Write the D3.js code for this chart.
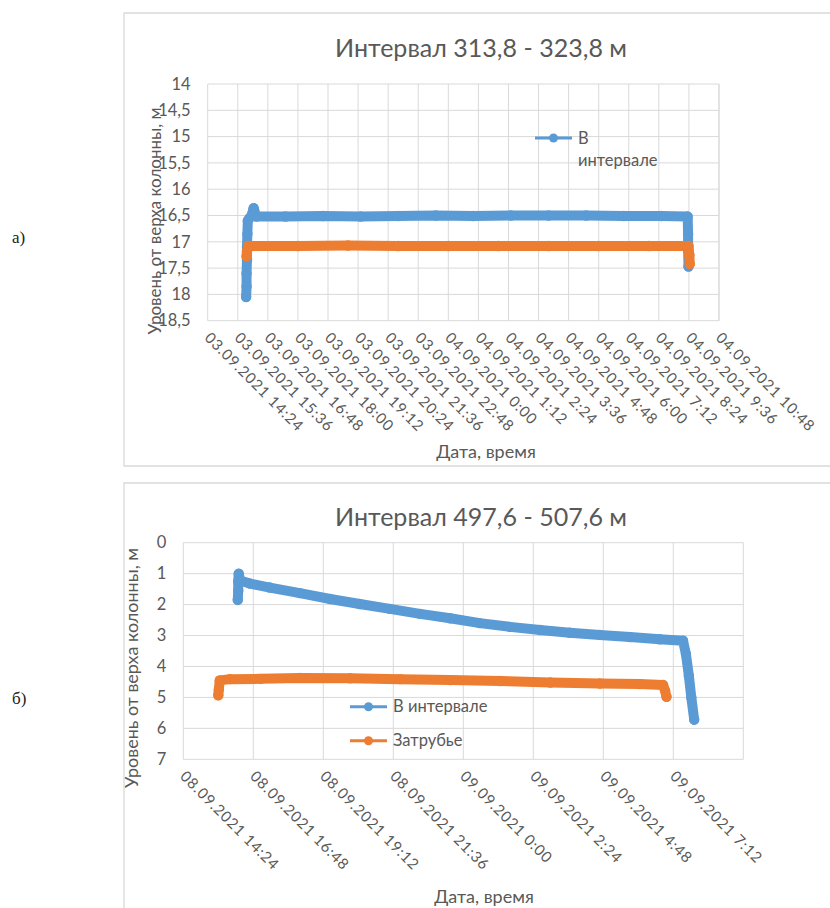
<!DOCTYPE html>
<html><head><meta charset="utf-8">
<script src="https://cdn.jsdelivr.net/npm/d3@7"></script>
<style>
body{margin:0;background:#fff;}
svg{display:block;}
text{font-family:Lato,"Open Sans",sans-serif;fill:#595959;}
</style></head>
<body>
<svg id="c" width="830" height="908"></svg>
<script>
// ---------- DATA ----------
// Chart a)
const titleA = "Интервал 313,8 - 323,8 м";
const yTicksA = [14, 14.5, 15, 15.5, 16, 16.5, 17, 17.5, 18, 18.5];
const xTickLabelsA = ["03.09.2021 14:24","03.09.2021 15:36","03.09.2021 16:48","03.09.2021 18:00","03.09.2021 19:12","03.09.2021 20:24","03.09.2021 21:36","03.09.2021 22:48","04.09.2021 0:00","04.09.2021 1:12","04.09.2021 2:24","04.09.2021 3:36","04.09.2021 4:48","04.09.2021 6:00","04.09.2021 7:12","04.09.2021 8:24","04.09.2021 9:36","04.09.2021 10:48"];
const blueTimesA = ["03.09.2021 15:56","03.09.2021 15:57","03.09.2021 15:57","03.09.2021 15:58","03.09.2021 15:58","03.09.2021 15:59","03.09.2021 16:00","03.09.2021 16:04","03.09.2021 16:09","03.09.2021 16:14","03.09.2021 16:20","03.09.2021 17:30","03.09.2021 19:00","03.09.2021 20:30","03.09.2021 22:00","03.09.2021 23:30","04.09.2021 1:00","04.09.2021 2:30","04.09.2021 4:00","04.09.2021 5:30","04.09.2021 7:00","04.09.2021 8:30","04.09.2021 9:33","04.09.2021 9:34","04.09.2021 9:34","04.09.2021 9:35"];
const blueValuesA = [18.05, 17.85, 17.6, 17.35, 17.1, 16.85, 16.6, 16.55, 16.5, 16.36, 16.52, 16.52, 16.51, 16.52, 16.51, 16.5, 16.51, 16.5, 16.5, 16.5, 16.51, 16.51, 16.52, 16.85, 17.15, 17.47];
const orangeTimesA = ["03.09.2021 15:57","03.09.2021 15:58","03.09.2021 16:01","03.09.2021 16:05","03.09.2021 18:00","03.09.2021 20:00","03.09.2021 22:00","04.09.2021 0:00","04.09.2021 2:00","04.09.2021 4:00","04.09.2021 6:00","04.09.2021 8:00","04.09.2021 9:35","04.09.2021 9:37","04.09.2021 9:38"];
const orangeValuesA = [17.28, 17.18, 17.08, 17.08, 17.08, 17.07, 17.08, 17.08, 17.08, 17.08, 17.08, 17.08, 17.08, 17.25, 17.42];
const legendA = ["В", "интервале"];

// Chart б)
const titleB = "Интервал 497,6 - 507,6 м";
const yTicksB = [0, 1, 2, 3, 4, 5, 6, 7];
const xTickLabelsB = ["08.09.2021 14:24","08.09.2021 16:48","08.09.2021 19:12","08.09.2021 21:36","09.09.2021 0:00","09.09.2021 2:24","09.09.2021 4:48","09.09.2021 7:12"];
const xMaxB = "09.09.2021 9:36";
const blueTimesB = ["08.09.2021 16:16","08.09.2021 16:17","08.09.2021 16:17","08.09.2021 16:18","08.09.2021 16:21","08.09.2021 16:41","08.09.2021 17:22","08.09.2021 18:24","08.09.2021 19:26","08.09.2021 20:27","08.09.2021 21:29","08.09.2021 22:31","08.09.2021 23:33","09.09.2021 0:34","09.09.2021 1:36","09.09.2021 2:38","09.09.2021 3:39","09.09.2021 4:41","09.09.2021 5:43","09.09.2021 6:44","09.09.2021 7:32","09.09.2021 7:38","09.09.2021 7:44","09.09.2021 7:49","09.09.2021 7:55"];
const blueValuesB = [1.85, 1.55, 1.25, 1.0, 1.22, 1.32, 1.45, 1.63, 1.82, 1.98, 2.14, 2.3, 2.44, 2.6, 2.72, 2.82, 2.91, 2.98, 3.05, 3.12, 3.17, 3.6, 4.3, 5.0, 5.72];
const orangeTimesB = ["08.09.2021 15:36","08.09.2021 15:37","08.09.2021 15:39","08.09.2021 16:00","08.09.2021 17:03","08.09.2021 18:24","08.09.2021 20:07","08.09.2021 21:50","08.09.2021 23:33","09.09.2021 1:16","09.09.2021 2:59","09.09.2021 4:41","09.09.2021 6:03","09.09.2021 6:51","09.09.2021 6:55","09.09.2021 6:58"];
const orangeValuesB = [4.93, 4.75, 4.45, 4.41, 4.4, 4.37, 4.38, 4.41, 4.44, 4.47, 4.52, 4.55, 4.57, 4.6, 4.78, 4.98];
const legendB = ["В интервале", "Затрубье"];

const seriesColors = {blue: "#5B9BD5", orange: "#ED7D31"};
const yTitle = "Уровень от верха колонны, м";
const xTitle = "Дата, время";

// ---------- DRAW ----------
const parse = d3.timeParse("%d.%m.%Y %H:%M");
const svg = d3.select("#c");
const grid = "#d9d9d9";

function zip(times, values){ return times.map((t,i)=>({t:parse(t), v:values[i]})); }

function drawChart(o){
  const g = svg.append("g");
  g.append("path").attr("d", `M${o.frame[2]},${o.frame[1]}H${o.frame[0]}V${o.frame[3]}H${o.frame[2]}`)
    .attr("fill","none").attr("stroke", grid).attr("stroke-width",1.3);
  const x = d3.scaleTime().domain(o.xDomain).range([o.L, o.R]);
  const y = d3.scaleLinear().domain(o.yDomain).range([o.T, o.B]);
  const tickDates = o.xTicks.map(parse);
  g.selectAll(".vg").data(tickDates.concat([o.xDomain[1]])).join("line")
    .attr("x1", d=>x(d)).attr("x2", d=>x(d)).attr("y1", o.T).attr("y2", o.B)
    .attr("stroke", grid).attr("stroke-width",1);
  g.selectAll(".hg").data(o.yTicks).join("line")
    .attr("x1", o.L).attr("x2", o.R).attr("y1", d=>y(d)).attr("y2", d=>y(d))
    .attr("stroke", grid).attr("stroke-width",1);
  g.selectAll(".yl").data(o.yTicks).join("text")
    .attr("x", o.L - 17).attr("y", d=>y(d)).attr("dy","0.35em")
    .attr("text-anchor","end").style("font-size","16.5px")
    .text(d=>String(d).replace(".", ","));
  g.selectAll(".xl").data(o.xTicks).join("text")
    .attr("transform", d=>`translate(${x(parse(d))-4},${o.B+18}) rotate(45)`)
    .attr("text-anchor","start").style("font-size","15px").style("letter-spacing","0.85px")
    .text(d=>d);
  g.append("text").attr("x", o.titleX).attr("y", o.titleY).attr("text-anchor","middle")
    .style("font-size","25px").attr("textLength", 292).attr("lengthAdjust","spacingAndGlyphs")
    .text(o.title);
  g.append("text").attr("transform", `translate(${o.yTitleX},${o.yTitleY}) rotate(-90)`)
    .attr("text-anchor","middle").attr("dy","0.35em").style("font-size","17px")
    .attr("textLength", o.yTitleLen).attr("lengthAdjust","spacingAndGlyphs").text(yTitle);
  g.append("text").attr("x", o.xTitleX).attr("y", o.xTitleY).attr("text-anchor","middle")
    .style("font-size","18px").text(xTitle);
  const line = d3.line().x(d=>x(d.t)).y(d=>y(d.v));
  o.series.forEach(s=>{
    const data = zip(s.times, s.values);
    g.append("path").attr("d", line(data)).attr("fill","none").attr("stroke", s.color)
      .attr("stroke-width", 10).attr("stroke-linejoin","round").attr("stroke-linecap","round");
    g.selectAll(null).data(data).join("circle").attr("cx", d=>x(d.t)).attr("cy", d=>y(d.v))
      .attr("r", 5.2).attr("fill", s.color);
  });
  o.legend.forEach(l=>{
    g.append("line").attr("x1", l.x).attr("x2", l.x+37).attr("y1", l.y).attr("y2", l.y)
      .attr("stroke", l.color).attr("stroke-width", 3);
    g.append("circle").attr("cx", l.x+18.5).attr("cy", l.y).attr("r", 4.5).attr("fill", l.color);
    l.lines.forEach((t,i)=>{
      g.append("text").attr("x", l.x+43).attr("y", l.y + i*22).attr("dy","0.35em")
        .style("font-size","16.5px").text(t);
    });
  });
}

drawChart({
  frame:[124, 13, 840, 466],
  L:207.7, R:719, T:84, B:320.7,
  xDomain:[parse(xTickLabelsA[0]), parse(xTickLabelsA[xTickLabelsA.length-1])],
  yDomain:[14, 18.5], yTicks:yTicksA, xTicks:xTickLabelsA,
  title:titleA, titleX:481, titleY:57,
  yTitleX:155, yTitleY:221, yTitleLen:227, xTitleX:486, xTitleY:458,
  series:[
    {times:blueTimesA, values:blueValuesA, color:seriesColors.blue},
    {times:orangeTimesA, values:orangeValuesA, color:seriesColors.orange}
  ],
  legend:[{x:535, y:138, color:seriesColors.blue, lines:legendA}]
});

drawChart({
  frame:[124, 483, 840, 930],
  L:183.3, R:743.3, T:542.7, B:759.3,
  xDomain:[parse(xTickLabelsB[0]), parse(xMaxB)],
  yDomain:[0, 7], yTicks:yTicksB, xTicks:xTickLabelsB,
  title:titleB, titleX:481, titleY:526,
  yTitleX:132, yTitleY:668, yTitleLen:240, xTitleX:484, xTitleY:903,
  series:[
    {times:blueTimesB, values:blueValuesB, color:seriesColors.blue},
    {times:orangeTimesB, values:orangeValuesB, color:seriesColors.orange}
  ],
  legend:[
    {x:350, y:706.7, color:seriesColors.blue, lines:[legendB[0]]},
    {x:350, y:740.7, color:seriesColors.orange, lines:[legendB[1]]}
  ]
});

svg.append("text").attr("x", 12).attr("y", 243).style("font-family","'Liberation Serif',serif")
  .style("font-size","17px").style("fill","#222").text("а)");
svg.append("text").attr("x", 12).attr("y", 704).style("font-family","'Liberation Serif',serif")
  .style("font-size","17px").style("fill","#222").text("б)");
</script>
</body></html>
